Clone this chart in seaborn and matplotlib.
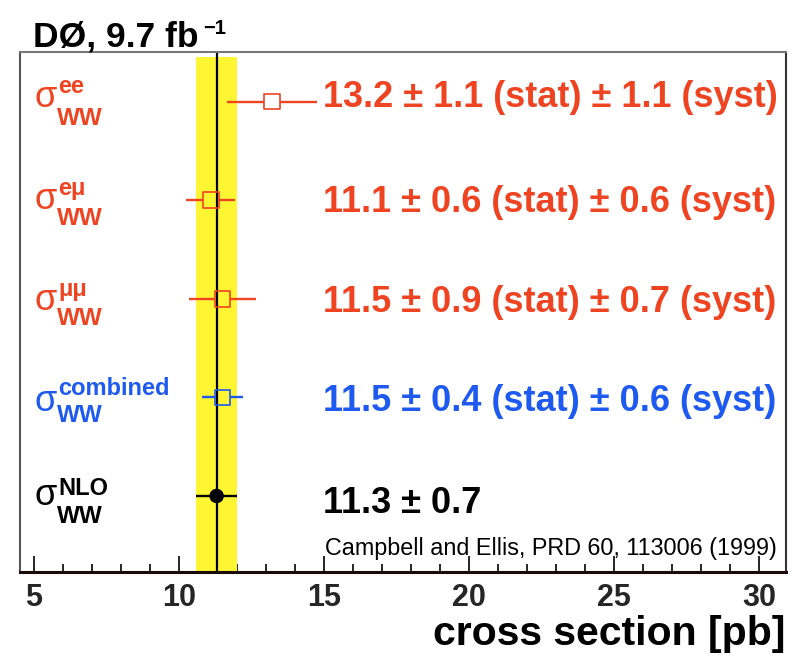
import numpy as np
import pandas as pd
import matplotlib
matplotlib.use("Agg")
import matplotlib.pyplot as plt
import seaborn as sns
from matplotlib.ticker import MultipleLocator
from matplotlib.transforms import offset_copy, blended_transform_factory

# ---------------- data ----------------
channels = ["ee", "eμ", "μμ", "combined", "NLO"]
central = [13.2, 11.1, 11.5, 11.5, 11.3]
stat_err = [1.1, 0.6, 0.9, 0.4, 0.7]
syst_err = [1.1, 0.6, 0.7, 0.6, 0.0]
rows = [5, 4, 3, 2, 1]
nlo_value = 11.3
nlo_err = 0.7
x_major_ticks = [5, 10, 15, 20, 25, 30]
title_text = "DØ, 9.7 fb"
title_sup = "−1"
citation = "Campbell and Ellis, PRD 60, 113006 (1999)"
x_label = "cross section [pb]"

# ---------------- style ----------------
RED = "#EE4422"
BLUE = "#1E5AF0"
colors = [RED, RED, RED, BLUE, "black"]
YELLOW = "#FFF533"

sns.set_theme(style="white")
plt.rcParams["font.family"] = ["Liberation Sans", "DejaVu Sans"]

W, H = 797, 659
fig = plt.figure(figsize=(W / 100, H / 100), dpi=100)
left_px, right_px, top_px, bot_px = 20, 785.7, 52.3, 571.7
ax = fig.add_axes([left_px / W, 1 - bot_px / H, (right_px - left_px) / W, (bot_px - top_px) / H])
ax.set_xlim(4.52, 30.92)
ax.set_ylim(0.232, 5.50)

# NLO band and line
ax.axvspan(nlo_value - nlo_err, nlo_value + nlo_err, ymin=0, ymax=0.991,
           color=YELLOW, lw=0, zorder=1)
ax.axvline(nlo_value, color="black", lw=1.6, zorder=2)

# error bars (total uncertainty), drawn outside the hollow markers
total = np.hypot(stat_err, syst_err)
total[-1] = nlo_err
px_per_unit = (right_px - left_px) / (30.92 - 4.52)
marker_px = [16, 16, 16, 15, 0]
for r, c, t, col, mp in zip(rows, central, total, colors, marker_px):
    g = (mp / 2) / px_per_unit
    ax.hlines([r, r], [c - t, c + g], [c - g, c + t], colors=col, lw=1.7, zorder=3)

df = pd.DataFrame({"value": central, "row": rows, "channel": channels})
sns.scatterplot(data=df, x="value", y="row", hue="channel", style="channel", size="channel",
                palette=dict(zip(channels, colors)),
                markers=dict(zip(channels, ["s", "s", "s", "s", "o"])),
                sizes=dict(zip(channels, [125, 125, 125, 115, 85])),
                legend=False, ax=ax, zorder=4, linewidth=1.2)
coll = ax.collections[-1]
coll.set_facecolors(["none"] * 4 + ["black"])
coll.set_edgecolors(colors)

# value texts
value_texts = [f"{c:.1f} ± {s:.1f} (stat) ± {y:.1f} (syst)"
               for c, s, y in zip(central[:4], stat_err[:4], syst_err[:4])]
value_texts.append(f"{nlo_value:.1f} ± {nlo_err:.1f}")
text_dy = [5.5, 12, 13, 14, 17]
for r, txt, col, dy in zip(rows, value_texts, colors, text_dy):
    tr = offset_copy(ax.transData, fig=fig, x=0, y=-dy, units="dots")
    ax.text(14.95, r, txt, transform=tr, color=col, fontsize=26,
            fontweight="bold", ha="left", va="baseline", zorder=5)

# sigma labels
bt = blended_transform_factory(ax.transAxes, ax.transData)
sigma_dy = [5.5, 9, 11, 13.5, 9]
sup_dy = [-8.5, -5, -3, -2, -1]
sub_dy = [23, 25, 26, 25, 27]
for r, ch, col, sd, spd, sbd in zip(rows, channels, colors, sigma_dy, sup_dy, sub_dy):
    ax.text(0, r, "σ", transform=offset_copy(bt, fig=fig, x=14, y=-sd, units="dots"),
            color=col, fontsize=26, ha="left", va="baseline")
    ax.text(0, r, ch, transform=offset_copy(bt, fig=fig, x=38, y=-spd, units="dots"),
            color=col, fontsize=17, fontweight="bold", ha="left", va="baseline")
    ax.text(0, r, "WW", transform=offset_copy(bt, fig=fig, x=37, y=-sbd, units="dots"),
            color=col, fontsize=17.5, fontweight="bold", ha="left", va="baseline")

# axes styling
ax.set_yticks([])
ax.set_xticks(x_major_ticks)
ax.xaxis.set_minor_locator(MultipleLocator(1))
ax.tick_params(axis="x", which="major", direction="in", length=11.5, width=1.2,
               color="black", labelsize=22, pad=8, bottom=True, top=False)
ax.tick_params(axis="x", which="minor", direction="in", length=5.8, width=1.2,
               color="black", bottom=True, top=False)
for lbl in ax.get_xticklabels():
    lbl.set_fontweight("bold")
ax.set_xlabel("")
ax.set_ylabel("")
ax.spines["left"].set_color("#555555")
ax.spines["left"].set_linewidth(1.5)
ax.spines["top"].set_color("#777777")
ax.spines["top"].set_linewidth(1.5)
ax.spines["right"].set_color("#333333")
ax.spines["right"].set_linewidth(1.5)
ax.spines["bottom"].set_color("#1a0a08")
ax.spines["bottom"].set_linewidth(2.2)

# figure texts
fig.text(33 / W, 1 - 47 / H, title_text, fontsize=25.5, fontweight="bold",
         ha="left", va="baseline", color="black")
fig.text(203 / W, 1 - 33.5 / H, title_sup, fontsize=14.5, fontweight="bold",
         ha="left", va="baseline", color="black")
fig.text(325 / W, 1 - 555 / H, citation, fontsize=16.8, ha="left", va="baseline",
         color="black")
fig.text(785 / W, 1 - 645 / H, x_label, fontsize=29.5, fontweight="bold",
         ha="right", va="baseline", color="black")

fig.savefig("out.png", dpi=100)
